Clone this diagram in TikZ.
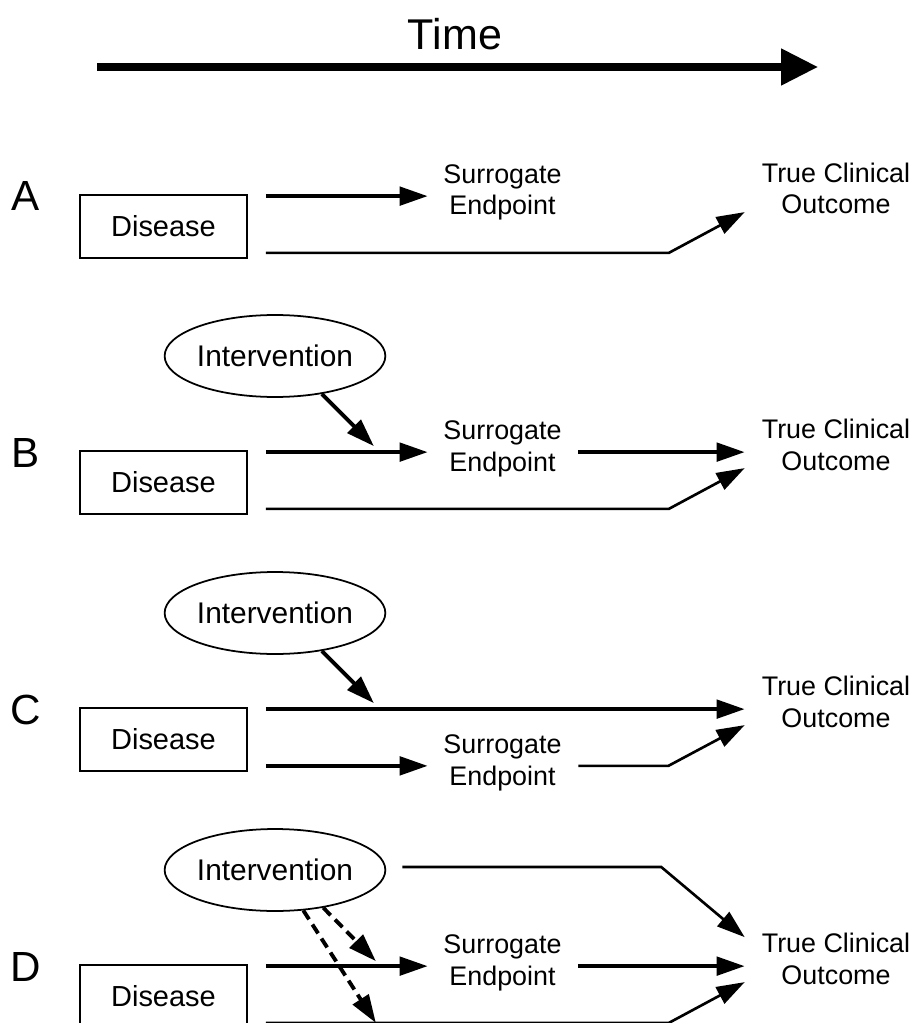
\documentclass[tikz,border=0pt]{standalone}
\usepackage{fontspec}
\setmainfont{Liberation Sans}
\usetikzlibrary{
    arrows.meta,
    positioning,
    shapes.geometric,
    calc
}

\begin{document}
\begin{tikzpicture}[
    x=0.02cm,
    y=-0.02cm,
    >={Triangle[length=16pt,width=10.5pt]},
    diseaseblock/.style={
        rectangle,
        draw,
        line width=1pt,
        minimum width=3.34cm,
        minimum height=1.26cm,
        inner sep=0pt,
        font=\fontsize{16.5}{19}\selectfont
    },
    interventionblock/.style={
        ellipse,
        draw,
        line width=1pt,
        minimum width=4.1cm,
        minimum height=1.64cm,
        inner sep=0pt,
        font=\fontsize{17}{20}\selectfont
    },
    surrogatetext/.style={
        anchor=base,
        align=center,
        minimum width=2.98cm,
        inner sep=0pt,
        font=\fontsize{15.3}{18}\selectfont
    },
    outcometext/.style={
        surrogatetext,
        minimum width=3.64cm
    },
    rowlabel/.style={
        anchor=base,
        inner sep=0pt,
        font=\fontsize{24}{28}\selectfont
    },
    line/.style={draw, ->, line width=2.2pt},
    thinline/.style={draw, ->, line width=1.5pt},
    dashline/.style={line, dash pattern=on 6pt off 3.5pt}
]

\path[use as bounding box, fill=white] (0,0) rectangle (917,1023);

% Time axis
\node[anchor=base, font=\fontsize{24.5}{29}\selectfont] (time) at (455,50) {Time};
\coordinate (tstart) at (97,67);
\coordinate (tend) at (818,67);
\draw[line width=4.2pt, -{Triangle[length=21pt,width=20pt]}] (tstart) -- (tend);

% Row A
\node[rowlabel] (labA) at (26,211) {A};
\node[diseaseblock] (disA) at (163.5,226.5) {Disease};
\node[surrogatetext] (surA) at (502.5,215) {Surrogate\\Endpoint};
\node[outcometext] (outA) at (836,214) {True Clinical\\Outcome};

\coordinate (a1) at ($(disA.north east)+(18,2)$);
\coordinate (a2) at ($(disA.south east)+(18,-6)$);
\draw[line] (a1) -- (a1 -| surA.west);
\draw[thinline] (a2) -- ++(403,0) -- ($(outA.west |- disA.north)+(0,18)$);

% Row B
\node[rowlabel] (labB) at (26,467) {B};
\node[interventionblock] (intB) at (275,356) {Intervention};
\node[diseaseblock] (disB) at (163.5,482.5) {Disease};
\node[surrogatetext] (surB) at (502.5,471) {Surrogate\\Endpoint};
\node[outcometext] (outB) at (836,470) {True Clinical\\Outcome};

\coordinate (b1) at ($(disB.north east)+(18,2)$);
\coordinate (b2) at ($(disB.south east)+(18,-6)$);
\draw[line] (b1) -- (b1 -| surB.west);
\draw[line] (intB.-39) -- ($(b1)+(108,-6)$);
\draw[line] ($(b1 -| surB.east)+(1,0)$) -- (b1 -| outB.west);
\draw[thinline] (b2) -- ++(403,0) -- ($(outB.west |- disB.north)+(0,18)$);

% Row C
\node[rowlabel] (labC) at (26,724) {C};
\node[interventionblock] (intC) at (275,613) {Intervention};
\node[diseaseblock] (disC) at (163.5,739.5) {Disease};
\node[surrogatetext] (surC) at (502.5,785) {Surrogate\\Endpoint};
\node[outcometext] (outC) at (836,727) {True Clinical\\Outcome};

\coordinate (c1) at ($(disC.north east)+(18,2)$);
\coordinate (c2) at ($(disC.south east)+(18,-6)$);
\draw[line] (c1) -- (c1 -| outC.west);
\draw[line] (intC.-39) -- ($(c1)+(108,-6)$);
\draw[line] (c2) -- (c2 -| surC.west);
\draw[thinline] ($(c2 -| surC.east)+(1,0)$) -- ++(90,0) -- ($(outC.west |- disC.north)+(0,18)$);

% Row D
\node[rowlabel] (labD) at (26,981) {D};
\node[interventionblock] (intD) at (275,870) {Intervention};
\node[diseaseblock] (disD) at (163.5,996.5) {Disease};
\node[surrogatetext] (surD) at (502.5,985) {Surrogate\\Endpoint};
\node[outcometext] (outD) at (836,984) {True Clinical\\Outcome};

\coordinate (d1) at ($(disD.north east)+(18,2)$);
\coordinate (d2) at ($(disD.south east)+(18,-6)$);
\draw[line] (d1) -- (d1 -| surD.west);
\draw[line] ($(d1 -| surD.east)+(1,0)$) -- (d1 -| outD.west);
\draw[thinline] (d2) -- ++(403,0) -- ($(outD.west |- disD.north)+(0,18)$);
\draw[thinline] ($(intD.east)+(16,-3)$) -- ++(259,0) -- ($(d1 -| outD.west)+(0,-29)$);
\draw[dashline] (intD.-55) -- ($(d2)+(110,0)$);
\draw[dashline] (intD.-38) -- ($(d1)+(110,-5)$);

\end{tikzpicture}
\end{document}
